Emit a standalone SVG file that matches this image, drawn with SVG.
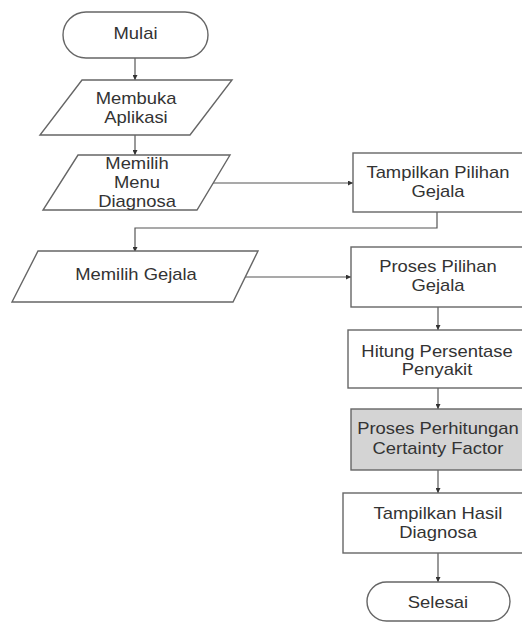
<svg xmlns="http://www.w3.org/2000/svg" width="522" height="623" viewBox="0 0 522 623">
<defs>
<marker id="arr" viewBox="0 0 6 6" refX="6" refY="3" markerWidth="5" markerHeight="5" orient="auto" markerUnits="userSpaceOnUse">
<path d="M0,0 L6,3 L0,6 Z" fill="#333"/>
</marker>
<style>
.s{fill:#fff;stroke:#666;stroke-width:1.4}
.g{fill:#d4d4d4;stroke:#666;stroke-width:1.4}
.c{fill:none;stroke:#555;stroke-width:1.2}
text{font-family:"Liberation Sans",Arial,sans-serif;font-size:16px;fill:#333;text-anchor:middle}
</style>
</defs>
<rect width="522" height="623" fill="#fff"/>
<g id="connectors">
<path class="c" d="M135,58 V80" marker-end="url(#arr)"/>
<path class="c" d="M135,135 V155" marker-end="url(#arr)"/>
<path class="c" d="M213,183 H353" marker-end="url(#arr)"/>
<path class="c" d="M437,212 V228 H135 V252" marker-end="url(#arr)"/>
<path class="c" d="M243,277 H351" marker-end="url(#arr)"/>
<path class="c" d="M438,307 V330" marker-end="url(#arr)"/>
<path class="c" d="M438,388 V409" marker-end="url(#arr)"/>
<path class="c" d="M438,470 V493" marker-end="url(#arr)"/>
<path class="c" d="M438,553 V582" marker-end="url(#arr)"/>
</g>
<g id="mulai">
<rect class="s" x="63" y="12" width="145" height="46" rx="23"/>
<text transform="translate(135.5,39) scale(1.15,1)">Mulai</text>
</g>
<g id="membuka">
<polygon class="s" points="82,80 232,80 190,135 40,135"/>
<text transform="translate(136,104) scale(1.15,1)">Membuka</text>
<text transform="translate(136,123) scale(1.15,1)">Aplikasi</text>
</g>
<g id="memilih-menu">
<polygon class="s" points="78,155 230,155 197,210 43,210"/>
<text transform="translate(137,169) scale(1.15,1)">Memilih</text>
<text transform="translate(137,188) scale(1.15,1)">Menu</text>
<text transform="translate(137,207) scale(1.15,1)">Diagnosa</text>
</g>
<g id="tampilkan-pilihan">
<rect class="s" x="353" y="153" width="175" height="59"/>
<text transform="translate(438,178) scale(1.15,1)">Tampilkan Pilihan</text>
<text transform="translate(438,197) scale(1.15,1)">Gejala</text>
</g>
<g id="memilih-gejala">
<polygon class="s" points="38,251 258,251 233,302 12,302"/>
<text transform="translate(136,280) scale(1.15,1)">Memilih Gejala</text>
</g>
<g id="proses-pilihan">
<rect class="s" x="351" y="247" width="177" height="60"/>
<text transform="translate(438,272) scale(1.15,1)">Proses Pilihan</text>
<text transform="translate(438,291) scale(1.15,1)">Gejala</text>
</g>
<g id="hitung">
<rect class="s" x="348" y="330" width="180" height="58"/>
<text transform="translate(437,357) scale(1.15,1)">Hitung Persentase</text>
<text transform="translate(437,375) scale(1.15,1)">Penyakit</text>
</g>
<g id="proses-cf">
<rect class="g" x="351" y="409" width="177" height="61"/>
<text transform="translate(438,434) scale(1.15,1)">Proses Perhitungan</text>
<text transform="translate(438,454) scale(1.15,1)">Certainty Factor</text>
</g>
<g id="tampilkan-hasil">
<rect class="s" x="343" y="493" width="185" height="60"/>
<text transform="translate(438,519) scale(1.15,1)">Tampilkan Hasil</text>
<text transform="translate(438,538) scale(1.15,1)">Diagnosa</text>
</g>
<g id="selesai">
<rect class="s" x="367" y="582" width="143" height="39" rx="19.5"/>
<text transform="translate(438,608) scale(1.15,1)">Selesai</text>
</g>
</svg>
